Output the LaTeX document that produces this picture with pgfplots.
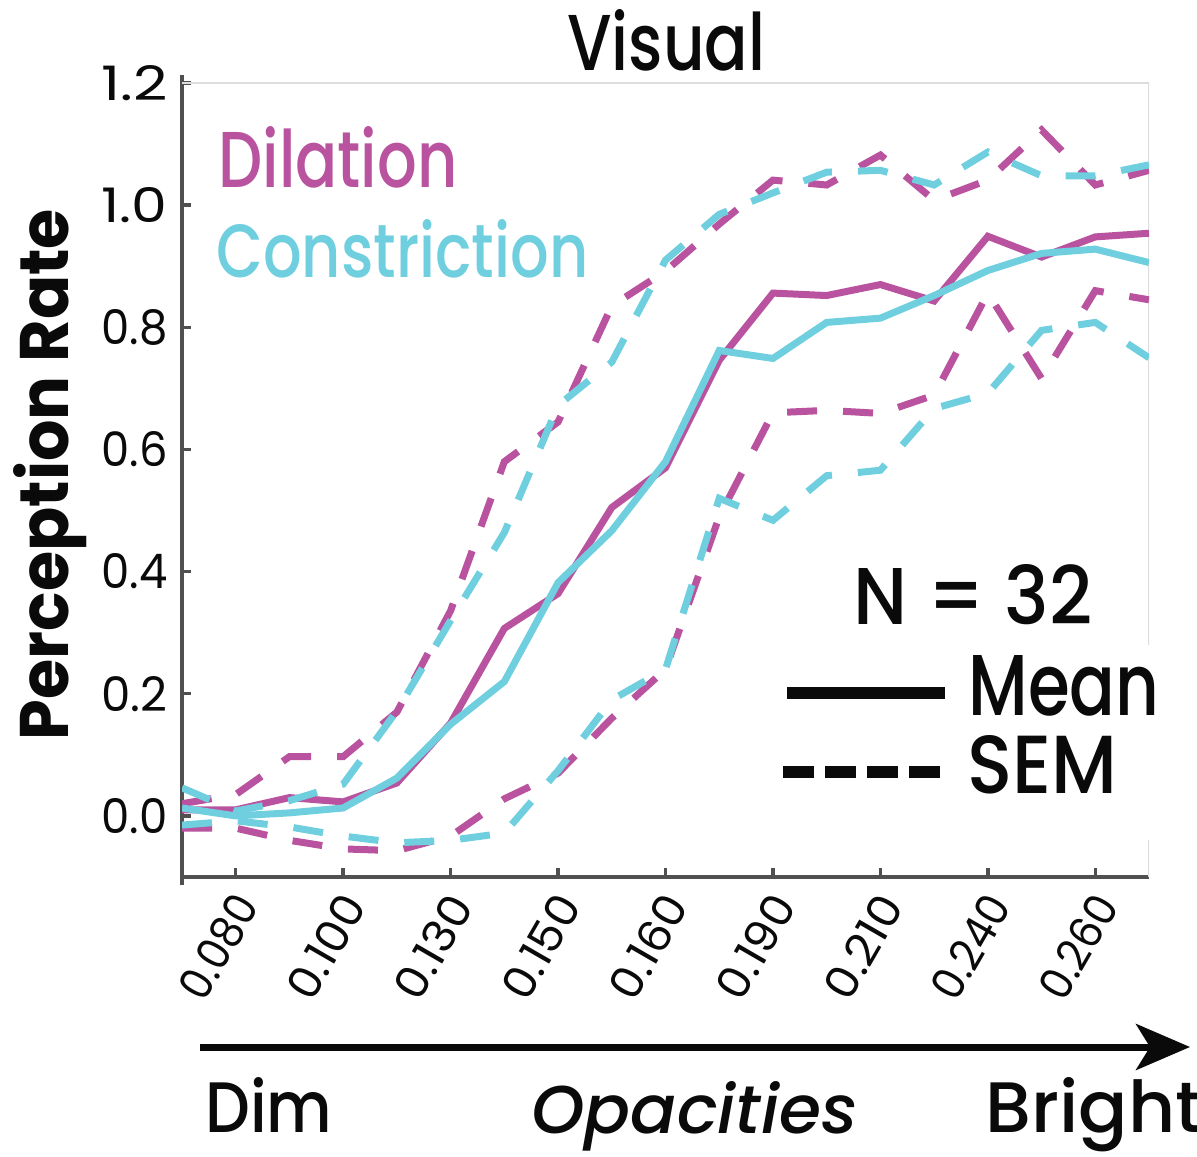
\documentclass[border=0pt]{standalone}
\usepackage{fontspec}
\setmainfont{Poppins}[UprightFont=* Medium, BoldFont=* Bold, ItalicFont=* Medium Italic]
\newfontfamily\tickfont{Poppins}
\usepackage{graphicx}
\usepackage{pgfplots}
\pgfplotsset{compat=1.18}
\usetikzlibrary{arrows.meta}

\definecolor{dil}{HTML}{B9539F}
\definecolor{con}{HTML}{70CFDF}
\definecolor{axgray}{HTML}{505050}
\definecolor{boxgray}{HTML}{DDDDDD}
\definecolor{ink}{HTML}{0A0A0A}

% text boxes sized to fixed width x height
\newcommand{\fit}[3]{\resizebox{#1}{#2}{#3}}
\newcommand{\ytl}[1]{\resizebox{33pt}{17.5pt}{\tickfont #1}}
\newcommand{\xtl}[1]{\resizebox{56pt}{16.5pt}{\tickfont #1}}

% mean and SEM bounds per opacity step
\pgfplotstableread{
i  dm     cm     du     dl      cu     cl
0  0.010  0.013  0.020  -0.020  0.046  -0.015
1  0.010  0.000  0.035  -0.020  0.008  -0.008
2  0.030  0.005  0.097  -0.040  0.025  -0.018
3  0.023  0.013  0.097  -0.054  0.052  -0.033
4  0.054  0.062  0.170  -0.057  0.172  -0.044
5  0.152  0.150  0.336  -0.033  0.320  -0.040
6  0.307  0.220  0.580   0.028  0.464  -0.028
7  0.364  0.382  0.645   0.070  0.672   0.074
8  0.505  0.467  0.835   0.160  0.743   0.190
9  0.570  0.580  0.892   0.240  0.910   0.240
10 0.746  0.762  0.969   0.490  0.985   0.520
11 0.856  0.749  1.041   0.660  1.020   0.484
12 0.852  0.808  1.033   0.664  1.054   0.557
13 0.870  0.815  1.082   0.659  1.057   0.566
14 0.843  0.852  1.008   0.689  1.033   0.667
15 0.949  0.893  1.041   0.856  1.087   0.692
16 0.915  0.921  1.123   0.716  1.048   0.795
17 0.948  0.928  1.033   0.860  1.048   0.808
18 0.954  0.906  1.057   0.845  1.066   0.750
}\data

\begin{document}
\begin{tikzpicture}
\useasboundingbox (0,0) rectangle (598.5pt,578pt);
\begin{axis}[
  at={(91pt,139.5pt)}, anchor=south west,
  scale only axis, width=483.5pt, height=397pt,
  xmin=0, xmax=18, ymin=-0.1, ymax=1.2,
  axis x line*=bottom, axis y line*=left,
  axis line style={axgray, line width=1.7pt},
  y axis line style={shorten <=-4pt, shorten >=-4pt},
  xtick={1,3,5,7,9,11,13,15,17},
  xticklabels={\xtl{0.080},\xtl{0.100},\xtl{0.130},\xtl{0.150},\xtl{0.160},\xtl{0.190},\xtl{0.210},\xtl{0.240},\xtl{0.260}},
  ytick={0,0.2,0.4,0.6,0.8,1.0,1.2},
  yticklabels={\ytl{0.0},\ytl{0.2},\ytl{0.4},\ytl{0.6},\ytl{0.8},\ytl{1.0},\ytl{1.2}},
  tick align=inside, major tick length=4.5pt,
  tick style={axgray, line width=1.7pt},
  xticklabel style={inner sep=0pt, anchor=east, xshift=5.5pt, yshift=-10.5pt, rotate=60, text=ink},
  yticklabel style={inner sep=0pt, anchor=east, xshift=-7pt, text=ink},
]
\draw[boxgray, line width=0.8pt] (rel axis cs:0,1) -- (rel axis cs:1,1) -- (rel axis cs:1,0.292);
\draw[boxgray, line width=0.8pt] (rel axis cs:1,0.047) -- (rel axis cs:1,0);

\addplot[dil, line width=3.5pt] table[x=i, y=dm] {\data};
\addplot[dil, line width=3.5pt, dash pattern=on 15pt off 13pt] table[x=i, y=du] {\data};
\addplot[dil, line width=3.5pt, dash pattern=on 15pt off 13pt] table[x=i, y=dl] {\data};
\addplot[con, line width=3.5pt] table[x=i, y=cm] {\data};
\addplot[con, line width=3.5pt, dash pattern=on 15pt off 13pt] table[x=i, y=cu] {\data};
\addplot[con, line width=3.5pt, dash pattern=on 15pt off 13pt] table[x=i, y=cl] {\data};
\end{axis}

% title and series names
\node[inner sep=0pt, anchor=base west, text=ink] at (283.5pt,542.5pt) {\fit{99pt}{30.5pt}{Visual}};
\node[inner sep=0pt, anchor=base west, text=dil] at (109pt,484pt) {\fit{119.5pt}{30.5pt}{Dilation}};
\node[inner sep=0pt, anchor=base west, text=con] at (108pt,439pt) {\fit{186pt}{29pt}{Constriction}};

% y label
\node[inner sep=0pt, anchor=base, rotate=90, text=ink] at (34pt,340.75pt) {\fit{265.5pt}{27.5pt}{\bfseries Perception Rate}};

% sample size and line key
\node[inner sep=0pt, anchor=base west, text=ink] at (426.5pt,265.5pt) {\fit{119.5pt}{30pt}{N = 32}};
\draw[ink, line width=6pt] (393.5pt,231.5pt) -- (472.5pt,231.5pt);
\node[inner sep=0pt, anchor=base west, text=ink] at (484pt,220.5pt) {\fit{95.5pt}{30pt}{Mean}};
\draw[ink, line width=6pt, dash pattern=on 15.5pt off 5.5pt] (391.5pt,192pt) -- (471pt,192pt);
\node[inner sep=0pt, anchor=base west, text=ink] at (483.5pt,181.5pt) {\fit{75pt}{29pt}{SEM}};

% opacity direction
\draw[ink, line width=3.5pt, -{Stealth[length=27pt, width=23pt, inset=7pt]}] (100pt,54.5pt) -- (595pt,54.5pt);
\node[inner sep=0pt, anchor=base west, text=ink] at (102.5pt,12pt) {\fit{63.5pt}{27.5pt}{Dim}};
\node[inner sep=0pt, anchor=base west, text=ink] at (265.5pt,11.5pt) {\fit{163pt}{26pt}{\itshape Opacities}};
\node[inner sep=0pt, anchor=base west, text=ink] at (492.5pt,12pt) {\fit{108.5pt}{27.5pt}{Bright}};
\end{tikzpicture}
\end{document}
